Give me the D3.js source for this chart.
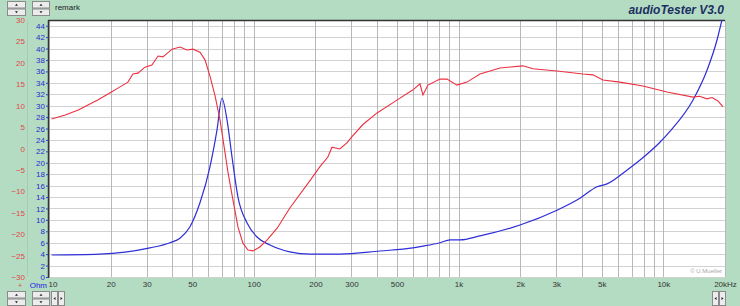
<!DOCTYPE html>
<html>
<head>
<meta charset="utf-8">
<script src="https://cdn.jsdelivr.net/npm/d3@7"></script>
<style>
  body { margin: 0; background: #b4dcc2; }
  svg { display: block; font-family: "Liberation Sans", Arial, sans-serif; }
</style>
</head>
<body>
<svg id="chart" width="740" height="306"></svg>
<script>
// red curve: SPL (dB), left red scale
var splFreq = [10.3, 12, 13.9, 16.2, 17.3, 19.9, 21.7, 24.3, 25.7, 27.2, 29.4, 31.8, 34.1, 36, 39.9, 43.6, 47.2, 50.5, 54.6, 57.8, 61.1, 64.7, 68.4, 70.8, 74.8, 79.1, 83.7, 88.5, 93.7, 99.1, 107, 116, 130, 150, 192, 210, 230, 241, 263, 285, 301, 341, 400, 500, 599, 648, 670, 709, 811, 878, 982, 1099, 1272, 1592, 2061, 2307, 3023, 4046, 4529, 5070, 6137, 7947, 10417, 13964, 15000, 16337, 17300, 18483, 19553];
var splDb = [6.9, 7.8, 9.0, 10.6, 11.3, 13.0, 14.1, 15.5, 17.4, 17.6, 19.0, 19.5, 21.6, 21.4, 23.2, 23.7, 23.0, 23.2, 22.5, 20.7, 16.9, 12.3, 6.7, 2.0, -5.5, -12.0, -18.3, -22.1, -23.7, -23.9, -23.0, -21.4, -18.6, -13.9, -6.9, -4.3, -2.0, 0.3, -0.1, 1.3, 2.7, 5.6, 8.3, 11.3, 13.7, 15.1, 12.5, 14.8, 16.2, 16.2, 14.8, 15.5, 17.4, 18.8, 19.3, 18.6, 18.1, 17.4, 17.2, 16.0, 15.5, 14.6, 13.2, 12.0, 12.2, 11.6, 11.9, 11.1, 9.7];

// blue curve: impedance (Ohm), left blue scale
var impFreq = [10.3, 17.7, 31.1, 39, 43.6, 48.8, 54.6, 61.1, 66.1, 69.9, 74, 78.3, 83.7, 92.6, 103.7, 120, 150, 188, 263, 413, 599, 670, 811, 908, 1016, 1272, 1995, 3023, 3916, 4742, 5308, 6637, 8128, 9625, 10765, 13964, 16337, 18281, 19321];
var impOhm = [3.85, 4.0, 5.1, 6.0, 6.8, 8.8, 13.0, 19.3, 25.7, 31.3, 27.5, 21.0, 14.0, 9.5, 7.0, 5.6, 4.4, 4.0, 4.0, 4.55, 5.1, 5.4, 6.0, 6.5, 6.5, 7.2, 9.1, 11.7, 13.8, 15.8, 16.3, 18.7, 21.2, 23.6, 25.5, 31.0, 36.2, 41.5, 45];

var dbTicks = [30, 25, 20, 15, 10, 5, 0, -5, -10, -15, -20, -25, -30];
var ohmTicks = d3.range(0, 45, 2);
var freqLabelVals = [10, 20, 30, 50, 100, 200, 300, 500, 1000, 2000, 3000, 5000, 10000, 20000];
var freqLabels = ["10", "20", "30", "50", "100", "200", "300", "500", "1k", "2k", "3k", "5k", "10k", "20kHz"];
var freqGrid = [];
[10, 100, 1000, 10000].forEach(function(dec){
  for (var k = 1; k < 10; k++) { if (dec * k <= 20000) freqGrid.push(dec * k); }
});
freqGrid.push(20000);

var svg = d3.select("#chart");
var pLeft = 49, pRight = 725, pTop = 20, pBottom = 277;

var x = d3.scaleLog().domain([10, 20000]).range([pLeft, pRight]);
var yDb = d3.scaleLinear().domain([-30, 30]).range([pBottom, pTop]);
var yOhm = d3.scaleLinear().domain([0, 45]).range([pBottom, pTop]);

// plot background
svg.append("rect").attr("x", pLeft).attr("y", pTop)
   .attr("width", pRight - pLeft).attr("height", pBottom - pTop).attr("fill", "#ffffff");

// horizontal grid (on ohm ticks)
svg.append("g").selectAll("line").data(ohmTicks).join("line")
   .attr("x1", pLeft).attr("x2", pRight)
   .attr("y1", function(d){ return Math.round(yOhm(d)) + 0.5; })
   .attr("y2", function(d){ return Math.round(yOhm(d)) + 0.5; })
   .attr("stroke", "#d2d2d2").attr("stroke-width", 1);

// vertical grid
svg.append("g").selectAll("line").data(freqGrid).join("line")
   .attr("x1", function(d){ return Math.round(x(d)) + 0.5; })
   .attr("x2", function(d){ return Math.round(x(d)) + 0.5; })
   .attr("y1", pTop).attr("y2", pBottom)
   .attr("stroke", "#b8b8b8").attr("stroke-width", 1);

// borders
svg.append("line").attr("x1", pLeft - 1).attr("x2", pRight).attr("y1", pTop + 0.5).attr("y2", pTop + 0.5)
   .attr("stroke", "#333").attr("stroke-width", 1.5);
svg.append("line").attr("x1", pLeft - 0.5).attr("x2", pLeft - 0.5).attr("y1", pTop).attr("y2", pBottom + 1)
   .attr("stroke", "#333").attr("stroke-width", 1.5);
svg.append("line").attr("x1", 27.5).attr("x2", 27.5).attr("y1", pTop).attr("y2", pBottom)
   .attr("stroke", "#a6ccb3").attr("stroke-width", 1);

// red axis
var dbAxis = svg.append("g").attr("transform", "translate(25,0)")
   .call(d3.axisLeft(yDb).tickValues(dbTicks).tickSize(0).tickPadding(0));
dbAxis.select(".domain").remove();
dbAxis.selectAll("text").attr("fill", "#e04848").attr("font-size", 8).attr("font-family", "Liberation Sans, Arial");

// blue axis
var ohmAxis = svg.append("g").attr("transform", "translate(48,0)")
   .call(d3.axisLeft(yOhm).tickValues(ohmTicks).tickSize(2).tickPadding(1));
ohmAxis.select(".domain").remove();
ohmAxis.selectAll("line").attr("stroke", "#3a3ad0");
ohmAxis.selectAll("text").attr("fill", "#2a2ad0").attr("font-size", 8).attr("font-family", "Liberation Sans, Arial");

// frequency axis
var fAxis = svg.append("g").attr("transform", "translate(0," + (pBottom + 2) + ")")
   .call(d3.axisBottom(x).tickValues(freqLabelVals).tickSize(0).tickPadding(2)
      .tickFormat(function(d, i){ return freqLabels[i]; }));
fAxis.select(".domain").remove();
fAxis.selectAll("text").attr("fill", "#333").attr("font-size", 8).attr("font-family", "Liberation Sans, Arial");
fAxis.selectAll("text").filter(function(d){ return d === 10; }).attr("text-anchor", "start").attr("dx", -1);

svg.append("text").attr("x", 47).attr("y", 288).attr("text-anchor", "end")
   .attr("font-size", 8).attr("fill", "#2020e0").text("Ohm");
svg.append("text").attr("x", 20).attr("y", 288).attr("text-anchor", "middle")
   .attr("font-size", 7).attr("fill", "#e04848").text("+");

// curves
svg.append("clipPath").attr("id", "plotclip").append("rect")
   .attr("x", pLeft).attr("y", pTop).attr("width", pRight - pLeft).attr("height", pBottom - pTop);

var splLine = d3.line()
   .x(function(d, i){ return x(splFreq[i]); })
   .y(function(d){ return yDb(d); });
var impLine = d3.line().curve(d3.curveMonotoneX)
   .x(function(d, i){ return x(impFreq[i]); })
   .y(function(d){ return yOhm(d); });

svg.append("path").datum(impOhm).attr("d", impLine).attr("clip-path", "url(#plotclip)")
   .attr("fill", "none").attr("stroke", "#2e2ed8").attr("stroke-width", 1.2);
svg.append("path").datum(splDb).attr("d", splLine).attr("clip-path", "url(#plotclip)")
   .attr("fill", "none").attr("stroke", "#ec3040").attr("stroke-width", 1.1);

// copyright
svg.append("text").attr("x", 722).attr("y", 273).attr("text-anchor", "end")
   .attr("font-size", 6).attr("fill", "#a8a8a8").text("\u00a9 U.Mueller");

// title
svg.append("text").attr("x", 724).attr("y", 14).attr("text-anchor", "end")
   .attr("font-size", 12).attr("font-weight", "bold").attr("font-style", "italic")
   .attr("fill", "#1c2f63").text("audioTester  V3.0");

svg.append("text").attr("x", 55).attr("y", 10)
   .attr("font-size", 8).attr("fill", "#222").text("remark");

// buttons
function spinButton(bx, by, w, h) {
  var g = svg.append("g");
  [0, 1].forEach(function(k){
    var yy = by + k * h / 2;
    g.append("rect").attr("x", bx + 0.5).attr("y", yy + 0.5).attr("width", w - 1).attr("height", h / 2 - 1)
     .attr("fill", "#ececec").attr("stroke", "#8a8a8a");
    var cx = bx + w / 2, cy = yy + h / 4;
    var pts = k === 0 ? [[cx - 1.5, cy + 1], [cx + 1.5, cy + 1], [cx, cy - 1]]
                      : [[cx - 1.5, cy - 1], [cx + 1.5, cy - 1], [cx, cy + 1]];
    g.append("polygon").attr("points", pts.join(" ")).attr("fill", "#222");
  });
}
function arrowButton(bx, by, w, h, dir) {
  var g = svg.append("g");
  g.append("rect").attr("x", bx + 0.5).attr("y", by + 0.5).attr("width", w - 1).attr("height", h - 1)
   .attr("fill", "#ececec").attr("stroke", "#8a8a8a");
  var cx = bx + w / 2, cy = by + h / 2;
  var pts = dir < 0 ? [[cx + 1, cy - 1.5], [cx + 1, cy + 1.5], [cx - 1, cy]]
                    : [[cx - 1, cy - 1.5], [cx - 1, cy + 1.5], [cx + 1, cy]];
  g.append("polygon").attr("points", pts.join(" ")).attr("fill", "#222");
}
spinButton(7, 1, 19, 15);
spinButton(32, 1, 18, 15);
spinButton(7, 291, 19, 15);
spinButton(32, 291, 18, 15);
arrowButton(51, 291, 7, 15, -1);
arrowButton(58, 291, 7, 15, 1);
arrowButton(712, 291, 7, 15, -1);
arrowButton(719, 291, 7, 15, 1);
</script>
</body>
</html>
